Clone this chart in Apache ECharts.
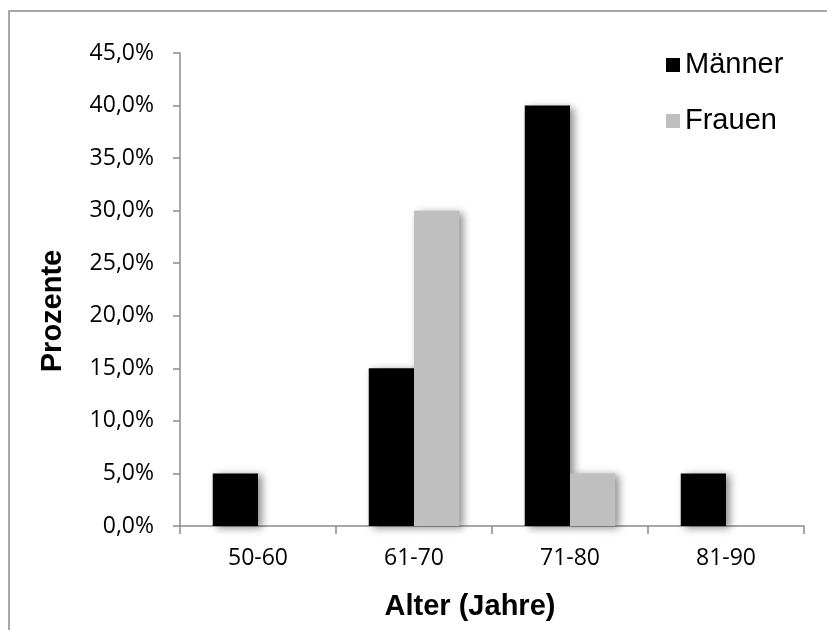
<!DOCTYPE html>
<html>
<head>
<meta charset="utf-8">
<script src="https://cdn.jsdelivr.net/npm/echarts@6/dist/echarts.min.js"></script>
<style>
  html, body { margin: 0; padding: 0; background: #fff; }
  #chart { width: 827px; height: 630px; }
</style>
</head>
<body>
<div id="chart"></div>
<script>
// Age groups and share per group (percent)
const categories = ['50-60', '61-70', '71-80', '81-90'];
const maenner = [5, 15, 40, 5];
const frauen = [0, 30, 5, 0];
const yTicks = { min: 0, max: 45, interval: 5 };

const tickFont = '"Open Sans", sans-serif';
const titleFont = '"Liberation Sans", Arial, sans-serif';
const axisGrey = '#8c8c8c';

const barShadow = {
  shadowBlur: 8,
  shadowOffsetX: 4,
  shadowOffsetY: 2,
  shadowColor: 'rgba(0,0,0,0.45)'
};

const chart = echarts.init(document.getElementById('chart'), null, { renderer: 'canvas' });

chart.setOption({
  animation: false,
  backgroundColor: '#fff',
  grid: { left: 180, top: 53, right: 23, bottom: 104, containLabel: false },
  legend: {
    orient: 'vertical',
    left: 666,
    top: 50,
    padding: 0,
    itemWidth: 14,
    itemHeight: 14,
    itemGap: 26,
    itemTextGap: 8,
    icon: 'rect',
    itemStyle: { shadowBlur: 0, shadowOffsetX: 0, shadowOffsetY: 0 },
    textStyle: { fontFamily: titleFont, fontSize: 29, color: '#000', lineHeight: 30 },
    data: ['Männer', 'Frauen']
  },
  xAxis: {
    type: 'category',
    data: categories,
    boundaryGap: true,
    axisLine: { lineStyle: { color: axisGrey, width: 1.5 } },
    axisTick: { show: true, length: 8, lineStyle: { color: axisGrey, width: 1.5 } },
    axisLabel: { fontFamily: tickFont, fontSize: 23, color: '#000', margin: 21 }
  },
  yAxis: {
    type: 'value',
    min: yTicks.min,
    max: yTicks.max,
    interval: yTicks.interval,
    splitLine: { show: false },
    axisLine: { show: true, lineStyle: { color: axisGrey, width: 1.5 } },
    axisTick: { show: true, length: 7, lineStyle: { color: axisGrey, width: 1.5 } },
    axisLabel: {
      fontFamily: tickFont, fontSize: 23, color: '#000', margin: 26,
      formatter: v => v.toFixed(1).replace('.', ',') + '%'
    }
  },
  series: [
    {
      name: 'Männer',
      type: 'bar',
      data: maenner,
      barGap: '0%',
      barCategoryGap: '42%',
      itemStyle: Object.assign({ color: '#000000' }, barShadow)
    },
    {
      name: 'Frauen',
      type: 'bar',
      data: frauen,
      itemStyle: Object.assign({ color: '#bfbfbf' }, barShadow)
    }
  ],
  graphic: [
    {
      type: 'rect',
      silent: true,
      shape: { x: 9, y: 11, width: 900, height: 700 },
      style: { fill: 'none', stroke: '#8a8a8a', lineWidth: 1.5 },
      z: -1
    },
    {
      type: 'text',
      x: 53, y: 311,
      rotation: Math.PI / 2,
      style: {
        text: 'Prozente',
        font: 'bold 29px ' + titleFont,
        fill: '#000',
        align: 'center',
        verticalAlign: 'middle'
      }
    },
    {
      type: 'text',
      x: 470, y: 607,
      style: {
        text: 'Alter (Jahre)',
        font: 'bold 29px ' + titleFont,
        fill: '#000',
        align: 'center',
        verticalAlign: 'middle'
      }
    }
  ]
});
</script>
</body>
</html>
